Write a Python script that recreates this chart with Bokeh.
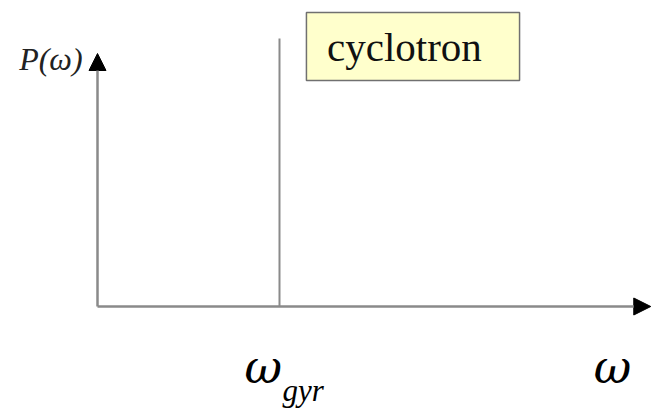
from bokeh.plotting import figure
from bokeh.models import Range1d, Arrow, NormalHead
from bokeh.core.properties import value
from bokeh.embed import file_html
from bokeh.resources import INLINE

# Diagram data (omega in units of omega_gyr, P normalised)
omega_axis_end = [3.04]
p_axis_end = [0.944]
omega_gyr = [1.0]
line_power = [1.0]
box_left, box_right = [1.148], [2.319]
box_bottom, box_top = [0.843], [1.097]
box_label = ["cyclotron"]

p = figure(width=653, height=409, output_backend="svg", toolbar_location=None,
           x_range=Range1d(-0.533, 3.055), y_range=Range1d(-0.3843, 1.1418),
           x_axis_type=None, y_axis_type=None, min_border=0)
p.grid.visible = False
p.outline_line_color = None
p.background_fill_color = "white"

axis_color = "#8a8a8a"

# spectral line at omega_gyr
p.segment(x0=omega_gyr, y0=[0], x1=omega_gyr, y1=line_power,
          line_color=axis_color, line_width=2)

# axes with arrowheads
p.add_layout(Arrow(x_start=0, y_start=0, x_end=omega_axis_end[0], y_end=0,
                   line_color=axis_color, line_width=2.5,
                   end=NormalHead(size=17, fill_color="black", line_color="black", line_width=1)))
p.add_layout(Arrow(x_start=0, y_start=0, x_end=0, y_end=p_axis_end[0],
                   line_color=axis_color, line_width=2.5,
                   end=NormalHead(size=17, fill_color="black", line_color="black", line_width=1)))

# cyclotron box
p.quad(left=box_left, right=box_right, bottom=box_bottom, top=box_top,
       fill_color="#FFFFCC", line_color="#707070", line_width=1.5)
p.text(x=[(box_left[0] + box_right[0]) / 2 - 0.047], y=[0.970], text=box_label,
       text_font=value("Liberation Serif"), text_font_size="41px",
       text_align="center", text_baseline="alphabetic", text_color="#111111")

# labels
p.text(x=[-0.082], y=[0.925], text=["P(ω)"],
       text_font=value("Liberation Serif"), text_font_style="italic",
       text_font_size="32px", text_align="right", text_baseline="alphabetic",
       text_color="#222222")
p.text(x=[0.808], y=[-0.227], text=["ω"],
       text_font=value("DejaVu Serif"), text_font_style="italic",
       text_font_size="46px", text_align="left", text_baseline="alphabetic",
       text_color="black")
p.text(x=[1.016], y=[-0.314], text=["gyr"],
       text_font=value("Liberation Serif"), text_font_style="italic",
       text_font_size="31px", text_align="left", text_baseline="alphabetic",
       text_color="black")
p.text(x=[2.727], y=[-0.227], text=["ω"],
       text_font=value("DejaVu Serif"), text_font_style="italic",
       text_font_size="46px", text_align="left", text_baseline="alphabetic",
       text_color="black")

open("out.html", "w").write(file_html(p, INLINE))
